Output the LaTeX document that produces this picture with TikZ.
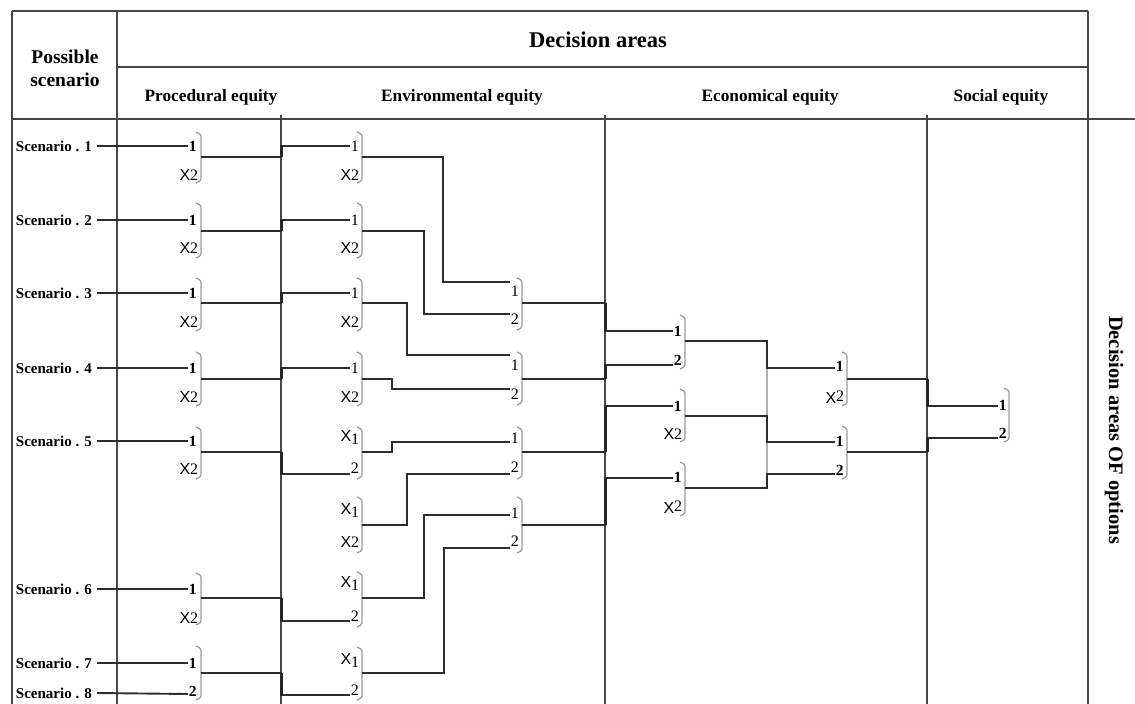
\documentclass[tikz,border=0pt]{standalone}
\usepackage{fontspec}
\setmainfont{Liberation Serif}
\newfontfamily\xfont{Liberation Sans}
\newcommand\crossx{{\xfont\fontsize{16}{17}\selectfont X}}
\newcommand\mybr[3]{\draw[brk] (#1-5,#2) -- (#1,#2+2.5) -- (#1,#3-2.5) -- (#1-5,#3);}
\begin{document}
\begin{tikzpicture}[x=1pt,y=-1pt,
  wire/.style={draw=black!82, line width=1.9pt},
  col/.style={draw=black!72, line width=1.4pt},
  jog/.style={draw=black!85, line width=3pt},
  brk/.style={draw=black!40, line width=1.2pt, rounded corners=1.5pt},
  hd/.style={font=\bfseries\fontsize{22.5}{26}\selectfont},
  sub/.style={font=\bfseries\fontsize{17.3}{20}\selectfont},
  scn/.style={font=\bfseries\fontsize{15}{18}\selectfont, anchor=east, inner sep=0pt},
  lab/.style={font=\fontsize{16}{17}\selectfont, inner sep=0.6pt, anchor=west},
  blab/.style={lab, font=\bfseries\fontsize{15.5}{17}\selectfont},
  xlab/.style={font=\fontsize{16}{17}\selectfont, inner sep=0.6pt, anchor=east},
]
\useasboundingbox (0,0) rectangle (1135,704);
% ---------- table frame ----------
\draw[col] (12,11) -- (1088,11);
\draw[col] (12,11) -- (12,704);
\draw[col] (117,11) -- (117,704);
\draw[col] (1088,11) -- (1088,704);
\draw[col] (117,67) -- (1088,67);
\draw[col] (12,119) -- (1135,119);
\draw[col] (281,115) -- (281,704);
\draw[col] (605,115) -- (605,704);
\draw[col] (927,115) -- (927,704);
% ---------- headers ----------
\node[font=\bfseries\fontsize{19.5}{23}\selectfont, align=center] (ps) at (65,68) {Possible\\scenario};
\node[hd] (da) at (598,40) {Decision areas};
\node[sub] (h1) at (211,97) {Procedural equity};
\node[sub] (h2) at (462,97) {Environmental equity};
\node[sub] (h3) at (770,97) {Economical equity};
\node[sub] (h4) at (1001,97) {Social equity};
\node[font=\bfseries\fontsize{20.5}{24}\selectfont, rotate=-90] (side) at (1114,430) {Decision areas OF options};
% ---------- scenarios ----------
\node[scn] (s1) at (92,146) {Scenario . 1};
\node[scn] (s2) at (92,220) {Scenario . 2};
\node[scn] (s3) at (92,293) {Scenario . 3};
\node[scn] (s4) at (92,368) {Scenario . 4};
\node[scn] (s5) at (92,441) {Scenario . 5};
\node[scn] (s6) at (92,589) {Scenario . 6};
\node[scn] (s7) at (92,663) {Scenario . 7};
\node[scn] (s8) at (92,693) {Scenario . 8};
% ---------- procedural labels ----------
\node[blab] (p1a) at (188,146) {1};
\node[xlab] (p1b) at (199,175) {\crossx 2};
\node[blab] (p2a) at (188,220) {1};
\node[xlab] (p2b) at (199,248) {\crossx 2};
\node[blab] (p3a) at (188,293) {1};
\node[xlab] (p3b) at (199,322) {\crossx 2};
\node[blab] (p4a) at (188,368) {1};
\node[xlab] (p4b) at (199,397) {\crossx 2};
\node[blab] (p5a) at (188,441) {1};
\node[xlab] (p5b) at (199,469) {\crossx 2};
\node[blab] (p6a) at (188,589) {1};
\node[xlab] (p6b) at (199,618) {\crossx 2};
\node[blab] (p7a) at (188,663) {1};
\node[blab] (p7b) at (188,691) {2};
\mybr{201}{132}{183}
\mybr{201}{203}{258}
\mybr{201}{278}{331}
\mybr{201}{352}{406}
\mybr{201}{427}{479}
\mybr{201}{573}{625}
\mybr{201}{646}{700}
% scenario inputs
\foreach \i/\n in {1/p1a,2/p2a,3/p3a,4/p4a,5/p5a,6/p6a,7/p7a}
  \draw[wire] ([xshift=5pt]s\i.east) -- (\n.west);
\draw[wire] ([xshift=5pt]s8.east) -- (p7b.west |- 0,694);
% ---------- environmental stage 1 labels ----------
\node[lab] (e1a) at (350,146) {1};
\node[xlab] (e1b) at (360,175) {\crossx 2};
\node[lab] (e2a) at (350,220) {1};
\node[xlab] (e2b) at (360,248) {\crossx 2};
\node[lab] (e3a) at (350,293) {1};
\node[xlab] (e3b) at (360,322) {\crossx 2};
\node[lab] (e4a) at (350,368) {1};
\node[xlab] (e4b) at (360,397) {\crossx 2};
\node[xlab] (e5a) at (360,437) {\crossx\raisebox{-3pt}{1}};
\node[lab] (e5b) at (350,468) {2};
\node[xlab] (e6a) at (360,510) {\crossx\raisebox{-3pt}{1}};
\node[xlab] (e6b) at (360,542) {\crossx 2};
\node[xlab] (e7a) at (360,583) {\crossx\raisebox{-3pt}{1}};
\node[lab] (e7b) at (350,616) {2};
\node[xlab] (e8a) at (360,660) {\crossx\raisebox{-3pt}{1}};
\node[lab] (e8b) at (350,690) {2};
\mybr{362}{132}{183}
\mybr{362}{203}{258}
\mybr{362}{278}{331}
\mybr{362}{352}{406}
\mybr{362}{427}{479}
\mybr{362}{497}{553}
\mybr{362}{572}{627}
\mybr{362}{647}{700}
% procedural -> environmental
\draw[wire] (201,157) -| (281,146) -- (e1a.west);
\draw[wire] (201,231) -| (281,220) -- (e2a.west);
\draw[wire] (201,303) -| (281,293) -- (e3a.west);
\draw[wire] (201,379) -| (281,368) -- (e4a.west);
\draw[wire] (201,452) -| (281,474) -- (e5b.west |- 0,474);
\draw[wire] (201,598) -| (281,621) -- (e7b.west |- 0,621);
\draw[wire] (201,673) -| (281,695) -- (e8b.west |- 0,695);
\draw[jog] (281,157) -- (281,146);
\draw[jog] (281,231) -- (281,220);
\draw[jog] (281,303) -- (281,293);
\draw[jog] (281,379) -- (281,368);
\draw[jog] (281,452) -- (281,474);
\draw[jog] (281,598) -- (281,621);
\draw[jog] (281,673) -- (281,695);
% ---------- environmental stage 2 ----------
\node[lab] (f1a) at (510,291) {1};
\node[lab] (f1b) at (510,319) {2};
\node[lab] (f2a) at (510,365) {1};
\node[lab] (f2b) at (510,394) {2};
\node[lab] (f3a) at (510,438) {1};
\node[lab] (f3b) at (510,467) {2};
\node[lab] (f4a) at (510,513) {1};
\node[lab] (f4b) at (510,541) {2};
\mybr{522}{278}{330}
\mybr{522}{352}{405}
\mybr{522}{427}{479}
\mybr{522}{497}{553}
\draw[wire] (362,157) -| (443,282) -- (f1a.west |- 0,282);
\draw[wire] (362,231) -| (424,314) -- (f1b.west |- 0,314);
\draw[wire] (362,303) -| (407,355) -- (f2a.west |- 0,355);
\draw[wire] (362,379) -| (392,389) -- (f2b.west |- 0,389);
\draw[wire] (362,452) -| (392,442) -- (f3a.west |- 0,442);
\draw[wire] (362,525) -| (407,474) -- (f3b.west |- 0,474);
\draw[wire] (362,598) -| (424,515) -- (f4a.west |- 0,515);
\draw[wire] (362,673) -| (444,548) -- (f4b.west |- 0,548);
% ---------- economical stage 1 ----------
\node[blab] (g1a) at (673,331) {1};
\node[blab] (g1b) at (673,360) {2};
\node[blab] (g2a) at (673,406) {1};
\node[xlab] (g2b) at (683,434) {\crossx 2};
\node[blab] (g3a) at (673,477) {1};
\node[xlab] (g3b) at (683,507) {\crossx\raisebox{1.5pt}{2}};
\mybr{685}{315}{369}
\mybr{685}{389}{442}
\mybr{685}{462}{516}
\draw[wire] (522,303) -| (605,331) -- (g1a.west |- 0,331);
\draw[wire] (522,379) -| (605,365) -- (g1b.west |- 0,365);
\draw[wire] (522,452) -| (605,406) -- (g2a.west |- 0,406);
\draw[wire] (522,525) -| (605,478) -- (g3a.west |- 0,478);
\draw[jog] (605,303) -- (605,331);
\draw[jog] (605,379) -- (605,365);
\draw[jog] (605,452) -- (605,406);
\draw[jog] (605,525) -- (605,478);
% ---------- economical stage 2 ----------
\node[blab] (h1a) at (835,366) {1};
\node[xlab] (h1b) at (845,397) {\crossx\raisebox{1.5pt}{2}};
\node[blab] (h2a) at (835,441) {1};
\node[blab] (h2b) at (835,470) {2};
\mybr{847}{352}{406}
\mybr{847}{426}{479}
\draw[draw=black!30, line width=1.2pt] (767,341) -- (767,488);
\draw[wire] (685,341) -| (767,368) -- (h1a.west |- 0,368);
\draw[wire] (685,416) -| (767,442) -- (h2a.west |- 0,442);
\draw[wire] (685,488) -| (767,474) -- (h2b.west |- 0,474);
% ---------- social ----------
\node[blab] (k1) at (998,405) {1};
\node[blab] (k2) at (998,433) {2};
\mybr{1009}{388}{442}
\draw[wire] (847,379) -| (927,406) -- (k1.west |- 0,406);
\draw[wire] (847,452) -| (927,438) -- (k2.west |- 0,438);
\draw[jog] (927,379) -- (927,406);
\draw[jog] (927,452) -- (927,438);
\end{tikzpicture}
\end{document}
